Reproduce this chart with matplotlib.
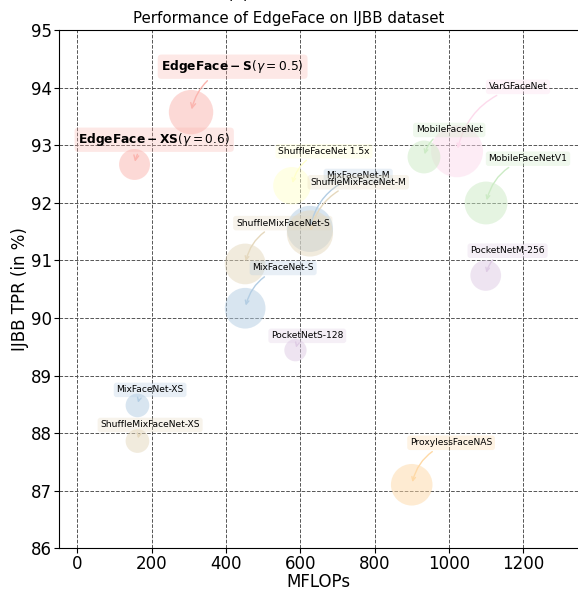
import matplotlib
matplotlib.use('Agg')
import matplotlib.pyplot as plt

# data: model, MFLOPs, IJBB TPR, params (M), family
models = ['$\\mathbf{EdgeFace-S}(\\gamma=0.5)$', '$\\mathbf{EdgeFace-XS}(\\gamma=0.6)$',
          'ShuffleFaceNet 1.5x', 'MixFaceNet-M', 'ShuffleMixFaceNet-M',
          'ShuffleMixFaceNet-S', 'MixFaceNet-S', 'PocketNetS-128',
          'MixFaceNet-XS', 'ShuffleMixFaceNet-XS', 'ProxylessFaceNAS',
          'VarGFaceNet', 'MobileFaceNet', 'MobileFaceNetV1', 'PocketNetM-256']
mflops = [306.1, 154.0, 577.5, 626.1, 626.1, 451.7, 451.7, 587.1,
          161.9, 161.9, 900.0, 1022.0, 933.0, 1100.0, 1099.2]
tpr = [93.58, 92.67, 92.30, 91.55, 91.47, 90.94, 90.17, 89.44,
       88.48, 87.86, 87.10, 92.90, 92.80, 92.00, 90.74]
params = [3.65, 1.77, 2.6, 3.95, 3.95, 3.07, 3.07, 0.92,
          1.04, 1.04, 3.2, 5.0, 2.0, 3.4, 1.75]
family = ['EdgeFace', 'EdgeFace', 'ShuffleFaceNet', 'MixFaceNet', 'ShuffleMixFaceNet',
          'ShuffleMixFaceNet', 'MixFaceNet', 'PocketNet', 'MixFaceNet', 'ShuffleMixFaceNet',
          'ProxylessFaceNAS', 'VarGFaceNet', 'MobileFaceNet', 'MobileFaceNet', 'PocketNet']
# label positions (data coords)
label_x = [418, 207, 664, 756, 756, 553, 554, 619, 196, 196, 1006, 1186, 1001, 1213, 1158]
label_y = [94.37, 93.10, 92.90, 92.47, 92.36, 91.65, 90.87, 89.69, 88.75, 88.14, 87.83, 94.02, 93.27, 92.77, 91.17]

families = sorted(set(family))
cmap = plt.get_cmap('Pastel1')
fam_color = {f: cmap(i) for i, f in enumerate(families)}

fig = plt.figure(figsize=(5.78, 5.92), dpi=100)
ax = fig.add_axes([0.1016, 0.0743, 0.9000, 0.8742])

for i in range(len(models)):
    c = fam_color[family[i]]
    ax.scatter(mflops[i], tpr[i], s=params[i] * 280, color=c, alpha=0.5, edgecolors='none', zorder=3)
    fs = 8.8 if family[i] == 'EdgeFace' else 6.6
    ax.annotate(models[i], xy=(mflops[i], tpr[i]), xytext=(label_x[i], label_y[i]),
                ha='center', va='center', fontsize=fs, zorder=4,
                bbox=dict(boxstyle='round,pad=0.3', fc=c, ec='none', alpha=0.3),
                arrowprops=dict(arrowstyle='->', color=c, connectionstyle='arc3,rad=0.3', lw=1))

ax.set_xlim(-50, 1350)
ax.set_ylim(86, 95)
ax.set_xticks([0, 200, 400, 600, 800, 1000, 1200])
ax.tick_params(labelsize=12, pad=1.5)
ax.grid(True, linestyle='--', color='#555555', linewidth=0.7)
ax.set_axisbelow(True)
ax.spines['right'].set_visible(False)
ax.set_xlabel('MFLOPs', fontsize=12, labelpad=0)
ax.set_ylabel('IJBB TPR (in %)', fontsize=12, labelpad=1)
# title is centred on the (cropped) figure
fig.text(0.5, 1 - 19 / 592, 'Performance of EdgeFace on IJBB dataset', ha='center', va='center', fontsize=10.8)
fig.text(0.412, 1.0 + 1 / 592, '(b)', ha='center', va='baseline', fontsize=12)

plt.savefig('out.png', dpi=100)
